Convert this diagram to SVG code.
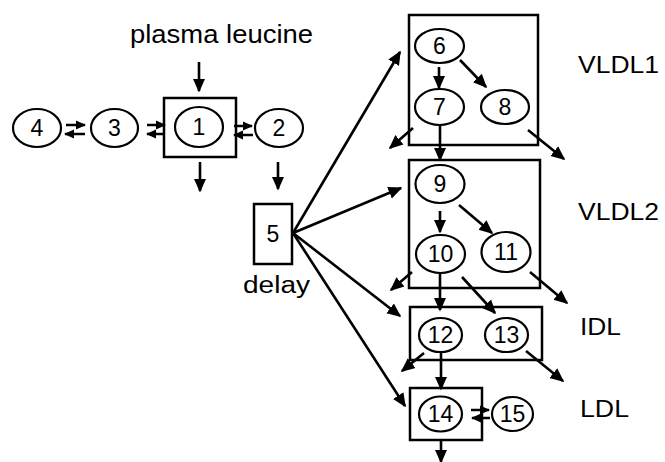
<svg xmlns="http://www.w3.org/2000/svg" width="665" height="462" viewBox="0 0 665 462">
<defs>
<marker id="ah" markerUnits="userSpaceOnUse" markerWidth="14" markerHeight="14" viewBox="0 0 14 14" refX="12.5" refY="7" orient="auto">
<path d="M0,0.8 L14,7 L0,13.2 z" fill="#000"/>
</marker>
<marker id="sh" markerUnits="userSpaceOnUse" markerWidth="10" markerHeight="10" viewBox="0 0 10 10" refX="9" refY="5" orient="auto">
<path d="M0,0.5 L10,5 L0,9.5 z" fill="#000"/>
</marker>
</defs>
<style>
.box{fill:#fff;stroke:#000;stroke-width:2.5}
.ell{fill:#fff;stroke:#000;stroke-width:2.2}
.num{font-family:"Liberation Sans",Arial,sans-serif;font-size:23px;text-anchor:middle;fill:#000}
.lbl{font-family:"Liberation Sans",Arial,sans-serif;font-size:23px;fill:#000}
.arr{stroke:#000;stroke-width:2.6;fill:none;marker-end:url(#ah)}
.ex{stroke:#000;stroke-width:2.5;fill:none;marker-end:url(#sh)}
</style>
<rect width="665" height="462" fill="#fff"/>

<g id="labels">
<text class="lbl" x="130" y="43" style="font-size:25px" textLength="183" lengthAdjust="spacingAndGlyphs">plasma leucine</text>
<text class="lbl" x="243" y="293" textLength="67" lengthAdjust="spacingAndGlyphs">delay</text>
<text class="lbl" x="578" y="73" textLength="81" lengthAdjust="spacingAndGlyphs">VLDL1</text>
<text class="lbl" x="578" y="220" textLength="81" lengthAdjust="spacingAndGlyphs">VLDL2</text>
<text class="lbl" x="580" y="335" textLength="41" lengthAdjust="spacingAndGlyphs">IDL</text>
<text class="lbl" x="580" y="417" textLength="49" lengthAdjust="spacingAndGlyphs">LDL</text>
</g>

<g id="box-plasma"><rect class="box" x="164" y="98" width="72" height="59"/></g>
<g id="box-vldl1"><rect class="box" x="409" y="15" width="129" height="130"/></g>
<g id="box-vldl2"><rect class="box" x="409" y="160" width="131" height="128"/></g>
<g id="box-idl"><rect class="box" x="410" y="307" width="132" height="53"/></g>
<g id="box-ldl"><rect class="box" x="410" y="388" width="72" height="52"/></g>

<g id="n1"><ellipse class="ell" cx="199" cy="127" rx="24" ry="20"/><text class="num" x="199" y="135">1</text></g>
<g id="n2"><ellipse class="ell" cx="279" cy="128" rx="24" ry="19"/><text class="num" x="279" y="136">2</text></g>
<g id="n3"><ellipse class="ell" cx="114.5" cy="128" rx="23.5" ry="19"/><text class="num" x="114.5" y="136">3</text></g>
<g id="n4"><ellipse class="ell" cx="37" cy="128" rx="24" ry="19"/><text class="num" x="37" y="136">4</text></g>
<g id="n5"><rect class="box" x="254" y="204" width="38" height="60"/><text class="num" x="273" y="242">5</text></g>
<g id="n6"><ellipse class="ell" cx="439.5" cy="46" rx="24.5" ry="17"/><text class="num" x="439.5" y="54">6</text></g>
<g id="n7"><ellipse class="ell" cx="439.5" cy="107" rx="24.5" ry="18"/><text class="num" x="439.5" y="115">7</text></g>
<g id="n8"><ellipse class="ell" cx="505" cy="107" rx="24" ry="17"/><text class="num" x="505" y="115">8</text></g>
<g id="n9"><ellipse class="ell" cx="440" cy="184" rx="24.5" ry="19"/><text class="num" x="440" y="192">9</text></g>
<g id="n10"><ellipse class="ell" cx="440.5" cy="254" rx="24.5" ry="19"/><text class="num" x="440.5" y="262">10</text></g>
<g id="n11"><ellipse class="ell" cx="506" cy="252" rx="24.5" ry="20"/><text class="num" x="506" y="260">11</text></g>
<g id="n12"><ellipse class="ell" cx="440.5" cy="335" rx="21.5" ry="17"/><text class="num" x="440.5" y="343">12</text></g>
<g id="n13"><ellipse class="ell" cx="506.5" cy="335" rx="21.5" ry="17"/><text class="num" x="506.5" y="343">13</text></g>
<g id="n14"><ellipse class="ell" cx="440.5" cy="414" rx="21.5" ry="17.5"/><text class="num" x="440.5" y="422">14</text></g>
<g id="n15"><ellipse class="ell" cx="512.5" cy="414" rx="20.5" ry="17"/><text class="num" x="512.5" y="422">15</text></g>

<g id="connectors">
<line class="arr" x1="199" y1="62" x2="199" y2="91"/>
<line class="arr" x1="200" y1="162" x2="200" y2="191"/>
<line class="arr" x1="278" y1="162" x2="278" y2="189"/>
<line class="arr" x1="293" y1="233" x2="400" y2="52"/>
<line class="arr" x1="293" y1="233" x2="401" y2="188"/>
<line class="arr" x1="293" y1="233" x2="400" y2="316"/>
<line class="arr" x1="293" y1="233" x2="405" y2="406"/>
<line class="arr" x1="439" y1="67" x2="439" y2="88"/>
<line class="arr" x1="460" y1="60" x2="486" y2="87"/>
<line class="arr" x1="413" y1="128" x2="390" y2="148"/>
<line class="arr" x1="440" y1="125" x2="440" y2="160"/>
<line class="arr" x1="528" y1="130" x2="564" y2="159"/>
<line class="arr" x1="440" y1="211" x2="440" y2="232"/>
<line class="arr" x1="459" y1="205" x2="492" y2="233"/>
<line class="arr" x1="412" y1="272" x2="391" y2="290"/>
<line class="arr" x1="530" y1="272" x2="567" y2="303"/>
<line class="arr" x1="440" y1="274" x2="440" y2="310"/>
<line class="arr" x1="462" y1="277" x2="495" y2="313"/>
<line class="arr" x1="424" y1="353" x2="402" y2="371"/>
<line class="arr" x1="526" y1="351" x2="563" y2="381"/>
<line class="arr" x1="441" y1="353" x2="441" y2="389"/>
<line class="arr" x1="441" y1="441" x2="441" y2="462"/>
<line class="ex" x1="66" y1="125" x2="85" y2="125"/>
<line class="ex" x1="85" y1="134" x2="65" y2="134"/>
<line class="ex" x1="147" y1="125" x2="165" y2="125"/>
<line class="ex" x1="165" y1="134" x2="147" y2="134"/>
<line class="ex" x1="234" y1="126" x2="252" y2="126"/>
<line class="ex" x1="253" y1="135" x2="234" y2="135"/>
<line class="ex" x1="471" y1="410" x2="489" y2="410"/>
<line class="ex" x1="490" y1="418" x2="472" y2="418"/>
</g>
</svg>
